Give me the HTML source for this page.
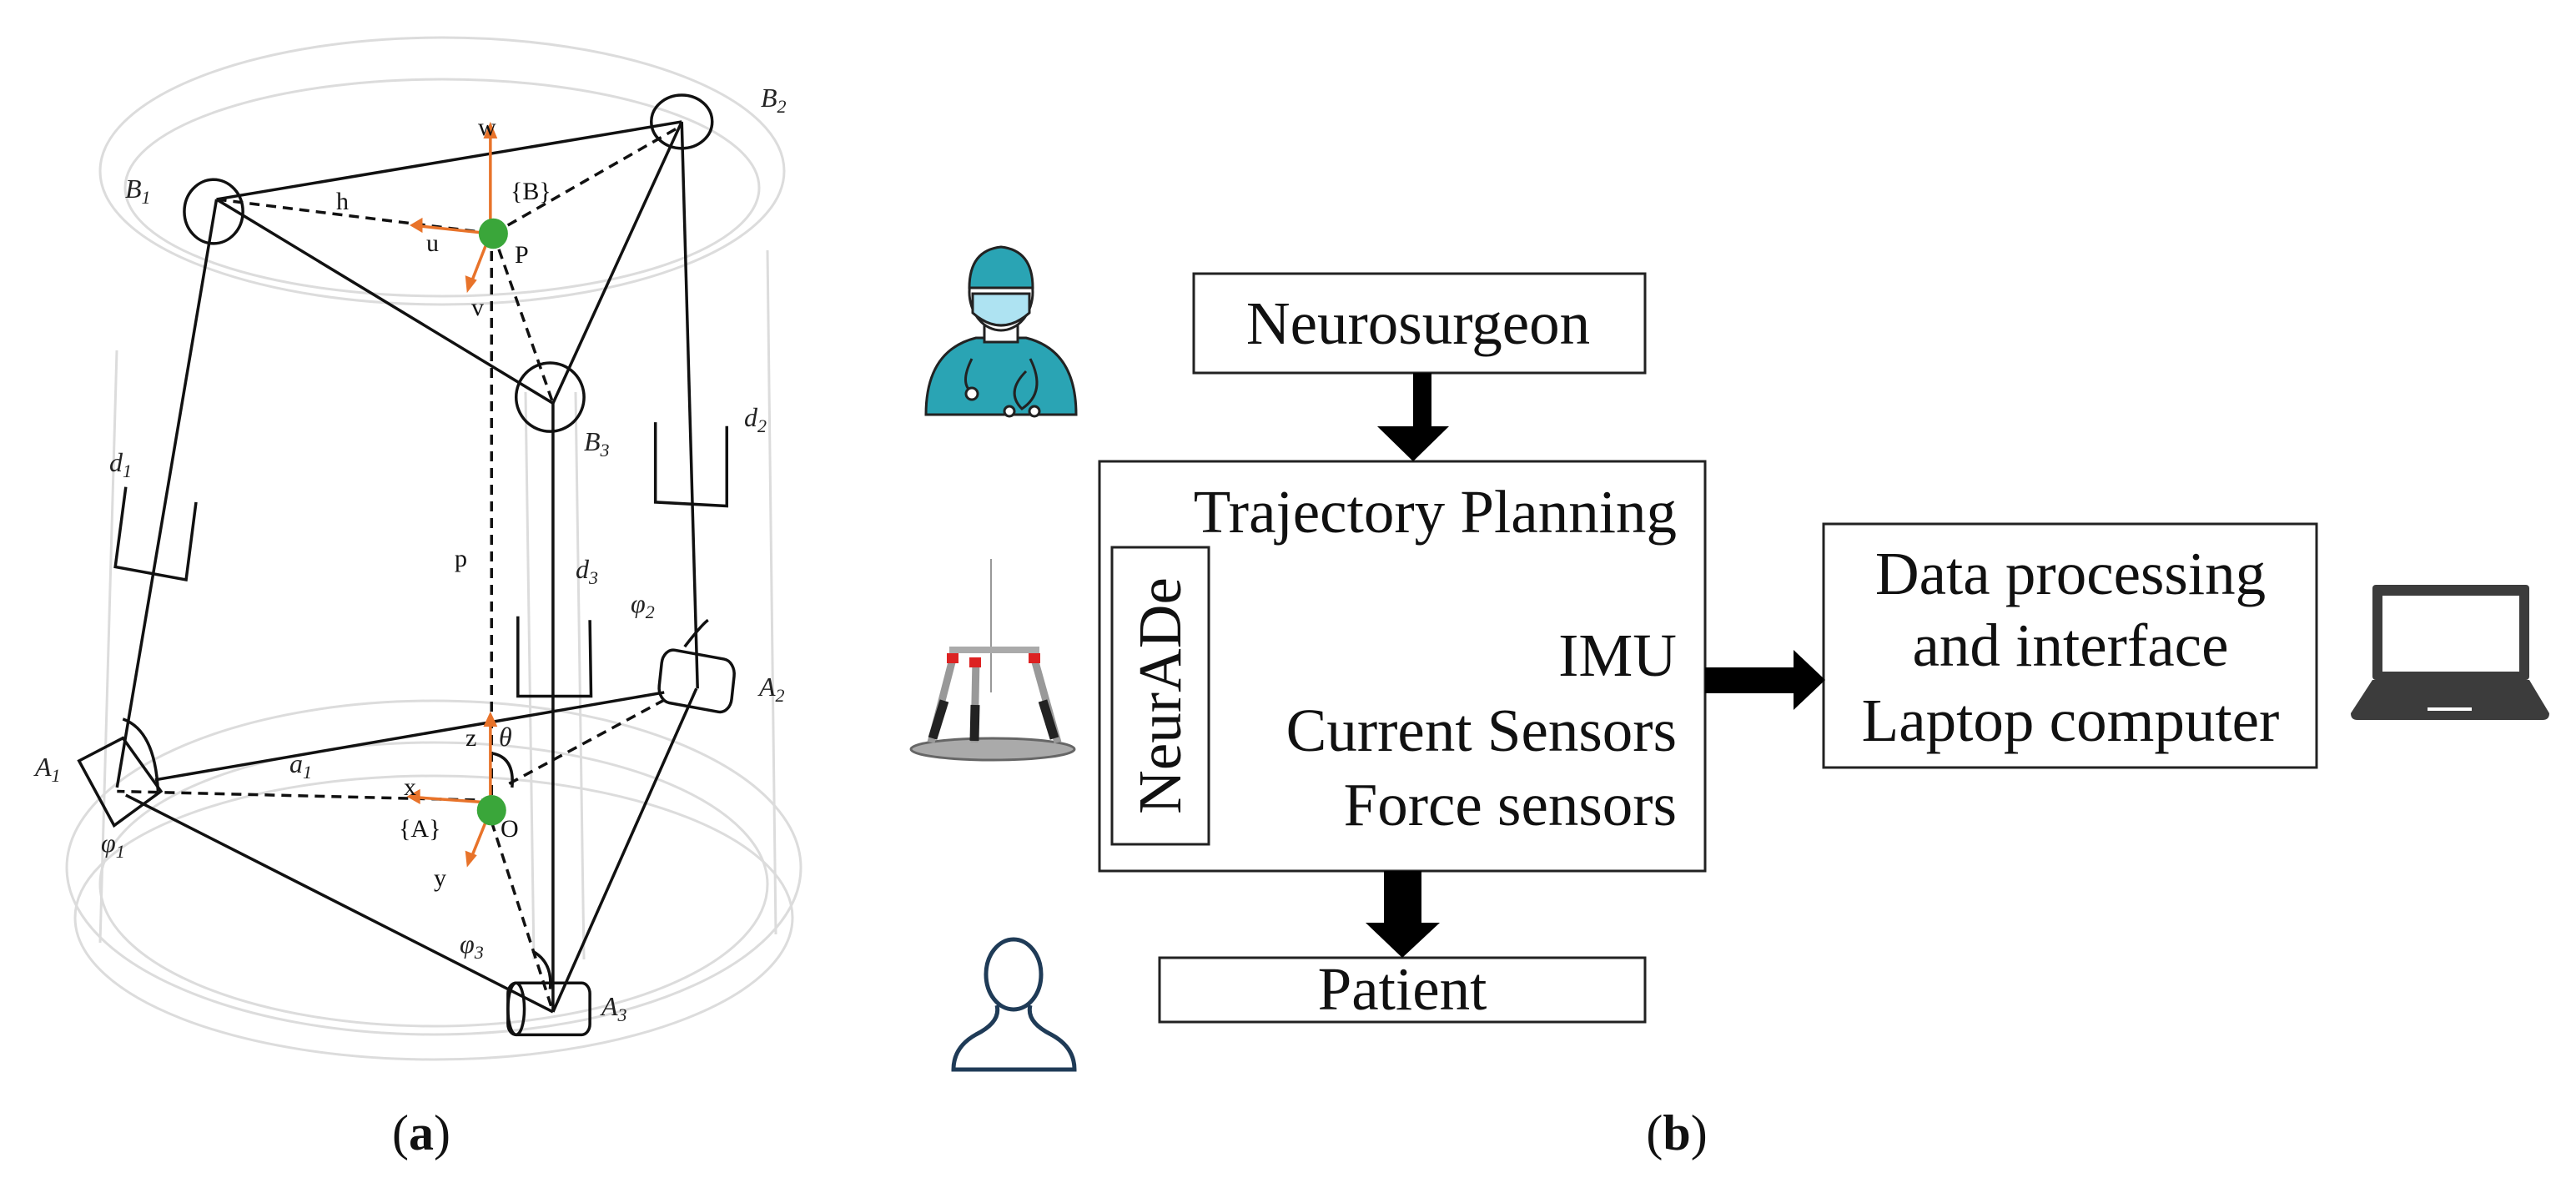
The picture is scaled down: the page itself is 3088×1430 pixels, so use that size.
<!DOCTYPE html>
<html><head><meta charset="utf-8"><style>
html,body{margin:0;padding:0;background:#fff;}
svg{display:block;}
.t{font-family:"Liberation Serif",serif;fill:#111;}
.l{font-family:"Liberation Serif",serif;font-style:italic;font-size:32px;fill:#222;}
</style></head><body>
<svg width="3088" height="1430" viewBox="0 0 3088 1430" xmlns="http://www.w3.org/2000/svg">
<!-- faint background robot -->
<g fill="none" stroke="#dcdcdc" stroke-width="3">
<ellipse cx="530" cy="205" rx="410" ry="160"/>
<ellipse cx="530" cy="225" rx="380" ry="130"/>
<ellipse cx="520" cy="1040" rx="440" ry="200"/>
<ellipse cx="520" cy="1060" rx="400" ry="170"/>
<ellipse cx="520" cy="1100" rx="430" ry="170"/>
<line x1="140" y1="420" x2="120" y2="1130"/>
<line x1="920" y1="300" x2="930" y2="1120"/>
<line x1="630" y1="470" x2="640" y2="1150"/>
<line x1="690" y1="470" x2="700" y2="1150"/>
</g>
<!-- geometry in zoom coords -->
<g transform="scale(0.7015,0.912)" fill="none" stroke="#111">
<g stroke-width="3.5">
<line x1="370" y1="262" x2="1165" y2="160" vector-effect="non-scaling-stroke"/>
<line x1="370" y1="262" x2="945" y2="530" vector-effect="non-scaling-stroke"/>
<line x1="1165" y1="160" x2="945" y2="530" vector-effect="non-scaling-stroke"/>
<line x1="370" y1="262" x2="200" y2="1035" vector-effect="non-scaling-stroke"/>
<line x1="1165" y1="160" x2="1192" y2="905" vector-effect="non-scaling-stroke"/>
<line x1="945" y1="530" x2="945" y2="1330" vector-effect="non-scaling-stroke"/>
<line x1="265" y1="1025" x2="1135" y2="910" vector-effect="non-scaling-stroke"/>
<line x1="215" y1="1045" x2="945" y2="1330" vector-effect="non-scaling-stroke"/>
<line x1="1190" y1="905" x2="945" y2="1330" vector-effect="non-scaling-stroke"/>
<ellipse cx="365" cy="278" rx="50" ry="42" vector-effect="non-scaling-stroke"/>
<ellipse cx="1165" cy="160" rx="52" ry="35" vector-effect="non-scaling-stroke"/>
<ellipse cx="940" cy="522" rx="58" ry="45" vector-effect="non-scaling-stroke"/>
<polyline points="215,640 197,745 318,762 335,660" vector-effect="non-scaling-stroke"/>
<polyline points="1120,555 1120,660 1242,665 1242,560" vector-effect="non-scaling-stroke"/>
<polyline points="885,810 885,915 1010,915 1008,815" vector-effect="non-scaling-stroke"/>
<path d="M135,1000 L210,970 L275,1040 L195,1085 Z" vector-effect="non-scaling-stroke"/>
<path d="M210,945 Q265,960 270,1040" vector-effect="non-scaling-stroke"/>
<rect x="1128" y="860" width="125" height="70" rx="20" transform="rotate(8 1190 895)" vector-effect="non-scaling-stroke"/>
<rect x="868" y="1292" width="140" height="68" rx="14" vector-effect="non-scaling-stroke"/>
<ellipse cx="882" cy="1326" rx="14" ry="34" vector-effect="non-scaling-stroke"/>
<path d="M840,990 Q880,995 875,1035" vector-effect="non-scaling-stroke"/>
<path d="M910,1250 Q945,1265 940,1300" vector-effect="non-scaling-stroke"/>
<path d="M1170,850 Q1200,820 1210,815" vector-effect="non-scaling-stroke"/>
</g>
<g stroke-width="3.5" stroke-dasharray="12,8">
<line x1="370" y1="262" x2="843" y2="307" vector-effect="non-scaling-stroke"/>
<line x1="843" y1="307" x2="1165" y2="165" vector-effect="non-scaling-stroke"/>
<line x1="843" y1="307" x2="945" y2="530" vector-effect="non-scaling-stroke"/>
<line x1="840" y1="330" x2="840" y2="1065" vector-effect="non-scaling-stroke"/>
<line x1="840" y1="1052" x2="200" y2="1040" vector-effect="non-scaling-stroke"/>
<line x1="870" y1="1030" x2="1135" y2="920" vector-effect="non-scaling-stroke"/>
<line x1="840" y1="1080" x2="945" y2="1330" vector-effect="non-scaling-stroke"/>
</g>
<g stroke="#e8732a" stroke-width="3.5">
<line x1="838" y1="307" x2="838" y2="175" vector-effect="non-scaling-stroke"/>
<line x1="838" y1="307" x2="715" y2="297" vector-effect="non-scaling-stroke"/>
<line x1="838" y1="307" x2="805" y2="372" vector-effect="non-scaling-stroke"/>
<line x1="838" y1="1060" x2="838" y2="948" vector-effect="non-scaling-stroke"/>
<line x1="838" y1="1055" x2="710" y2="1048" vector-effect="non-scaling-stroke"/>
<line x1="838" y1="1065" x2="805" y2="1128" vector-effect="non-scaling-stroke"/>
</g>
<g fill="#e8732a" stroke="none">
<polygon points="838,160 826,182 850,182"/>
<polygon points="700,296 722,286 722,306"/>
<polygon points="798,385 795,362 815,368"/>
<polygon points="838,935 826,955 850,955"/>
<polygon points="695,1047 718,1037 718,1057"/>
<polygon points="798,1140 795,1118 815,1124"/>
</g>
<ellipse cx="843" cy="307" rx="25" ry="20" fill="#3aa63a" stroke="none"/>
<ellipse cx="840" cy="1065" rx="25" ry="20" fill="#3aa63a" stroke="none"/>
</g>
<!-- labels -->
<text class="l" x="150" y="237">B<tspan font-size="22" dy="7">1</tspan></text>
<text class="l" x="912" y="128">B<tspan font-size="22" dy="7">2</tspan></text>
<text class="l" x="700" y="540">B<tspan font-size="22" dy="7">3</tspan></text>
<text class="t" font-size="30" x="403" y="251">h</text>
<text class="t" font-size="30" x="612" y="239">{B}</text>
<text class="t" font-size="30" x="511" y="301">u</text>
<text class="t" font-size="30" x="617" y="315">P</text>
<text class="t" font-size="30" x="565" y="378">v</text>
<text class="t" font-size="30" x="573" y="162">w</text>
<text class="l" x="131" y="565">d<tspan font-size="22" dy="7">1</tspan></text>
<text class="l" x="892" y="511">d<tspan font-size="22" dy="7">2</tspan></text>
<text class="t" font-size="30" x="545" y="679">p</text>
<text class="l" x="690" y="693">d<tspan font-size="22" dy="7">3</tspan></text>
<text class="l" x="756" y="734">φ<tspan font-size="22" dy="7">2</tspan></text>
<text class="l" x="910" y="834">A<tspan font-size="22" dy="7">2</tspan></text>
<text class="l" x="42" y="930">A<tspan font-size="22" dy="7">1</tspan></text>
<text class="l" x="347" y="926">a<tspan font-size="22" dy="7">1</tspan></text>
<text class="t" font-size="30" x="558" y="894">z</text>
<text class="l" x="598" y="894">θ</text>
<text class="t" font-size="30" x="484" y="953">x</text>
<text class="t" font-size="30" x="478" y="1003">{A}</text>
<text class="t" font-size="30" x="600" y="1003">O</text>
<text class="t" font-size="30" x="520" y="1062">y</text>
<text class="l" x="121" y="1021">φ<tspan font-size="22" dy="7">1</tspan></text>
<text class="l" x="551" y="1142">φ<tspan font-size="22" dy="7">3</tspan></text>
<text class="l" x="721" y="1217">A<tspan font-size="22" dy="7">3</tspan></text>
<text class="t" font-size="60" x="505" y="1378" text-anchor="middle">(<tspan font-weight="bold">a</tspan>)</text>
<text class="t" font-size="60" x="2010" y="1378" text-anchor="middle">(<tspan font-weight="bold">b</tspan>)</text>

<!-- right diagram -->
<g fill="none" stroke="#222" stroke-width="3">
<rect x="1431" y="328" width="541" height="119"/>
<rect x="1318" y="553" width="726" height="491"/>
<rect x="1333" y="656" width="116" height="356"/>
<rect x="1390" y="1148" width="582" height="77"/>
<rect x="2186" y="628" width="591" height="292"/>
</g>
<g fill="#000">
<rect x="1694" y="447" width="22" height="66"/>
<polygon points="1651,511 1737,511 1694,553"/>
<rect x="1659" y="1044" width="45" height="64"/>
<polygon points="1637,1106 1726,1106 1681,1148"/>
<rect x="2044" y="800" width="108" height="31"/>
<polygon points="2150,779 2150,851 2188,815"/>
</g>
<text class="t" font-size="73" x="1700" y="412" text-anchor="middle">Neurosurgeon</text>
<text class="t" font-size="73" x="2010" y="638" text-anchor="end">Trajectory Planning</text>
<text class="t" font-size="73" x="2010" y="810" text-anchor="end">IMU</text>
<text class="t" font-size="73" x="2010" y="900" text-anchor="end">Current Sensors</text>
<text class="t" font-size="73" x="2010" y="989" text-anchor="end">Force sensors</text>
<text class="t" font-size="73" transform="translate(1415,834) rotate(-90)" text-anchor="middle">NeurADe</text>
<text class="t" font-size="73" x="1681" y="1210" text-anchor="middle">Patient</text>
<text class="t" font-size="73" x="2482" y="712" text-anchor="middle">Data processing</text>
<text class="t" font-size="73" x="2482" y="798" text-anchor="middle">and interface</text>
<text class="t" font-size="73" x="2482" y="888" text-anchor="middle">Laptop computer</text>

<!-- laptop -->
<rect x="2844" y="701" width="188" height="114" rx="4" fill="#3c3c3c"/>
<rect x="2856" y="714" width="164" height="91" fill="#fff"/>
<path d="M2844,815 L3032,815 L3056,855 Q3056,863 3048,863 L2826,863 Q2818,863 2818,855 Z" fill="#3c3c3c"/>
<rect x="2910" y="848" width="53" height="4" fill="#fff"/>

<!-- surgeon icon -->
<g stroke="#222" stroke-width="3">
<path d="M1110,497 Q1110,420 1170,405 L1230,405 Q1290,420 1290,497 Z" fill="#2aa4b4"/>
<rect x="1180" y="370" width="40" height="40" fill="#fff"/>
<ellipse cx="1200" cy="350" rx="38" ry="46" fill="#fff"/>
<path d="M1162,345 Q1162,300 1200,296 Q1238,300 1238,345 Z" fill="#2aa4b4"/>
<path d="M1166,352 L1234,352 L1234,375 Q1200,405 1166,375 Z" fill="#aee3f2"/>
<path d="M1165,430 Q1150,460 1165,470" fill="none"/>
<circle cx="1165" cy="472" r="7" fill="#fff"/>
<path d="M1235,430 Q1255,470 1225,490 Q1205,470 1230,445" fill="none"/>
<circle cx="1210" cy="493" r="6" fill="#fff"/>
<circle cx="1240" cy="493" r="6" fill="#fff"/>
</g>
<!-- robot icon -->
<g>
<line x1="1188" y1="670" x2="1188" y2="830" stroke="#999" stroke-width="2"/>
<ellipse cx="1190" cy="898" rx="98" ry="13" fill="#aaa" stroke="#666" stroke-width="3"/>
<rect x="1138" y="775" width="108" height="8" fill="#aaa"/>
<line x1="1142" y1="790" x2="1116" y2="890" stroke="#999" stroke-width="9"/>
<line x1="1170" y1="790" x2="1168" y2="890" stroke="#999" stroke-width="9"/>
<line x1="1240" y1="790" x2="1268" y2="890" stroke="#999" stroke-width="9"/>
<line x1="1132" y1="840" x2="1118" y2="885" stroke="#222" stroke-width="11"/>
<line x1="1169" y1="845" x2="1168" y2="888" stroke="#222" stroke-width="11"/>
<line x1="1250" y1="840" x2="1264" y2="885" stroke="#222" stroke-width="11"/>
<rect x="1135" y="783" width="14" height="12" fill="#d22"/>
<rect x="1162" y="788" width="14" height="12" fill="#d22"/>
<rect x="1233" y="783" width="14" height="12" fill="#d22"/>
</g>
<!-- patient icon -->
<g fill="none" stroke="#1f3b57" stroke-width="5">
<ellipse cx="1215" cy="1168" rx="33" ry="42"/>
<path d="M1195,1205 Q1200,1225 1170,1240 Q1143,1255 1143,1282 L1288,1282 Q1288,1255 1260,1240 Q1230,1225 1235,1205"/>
</g>
</svg>
</body></html>
